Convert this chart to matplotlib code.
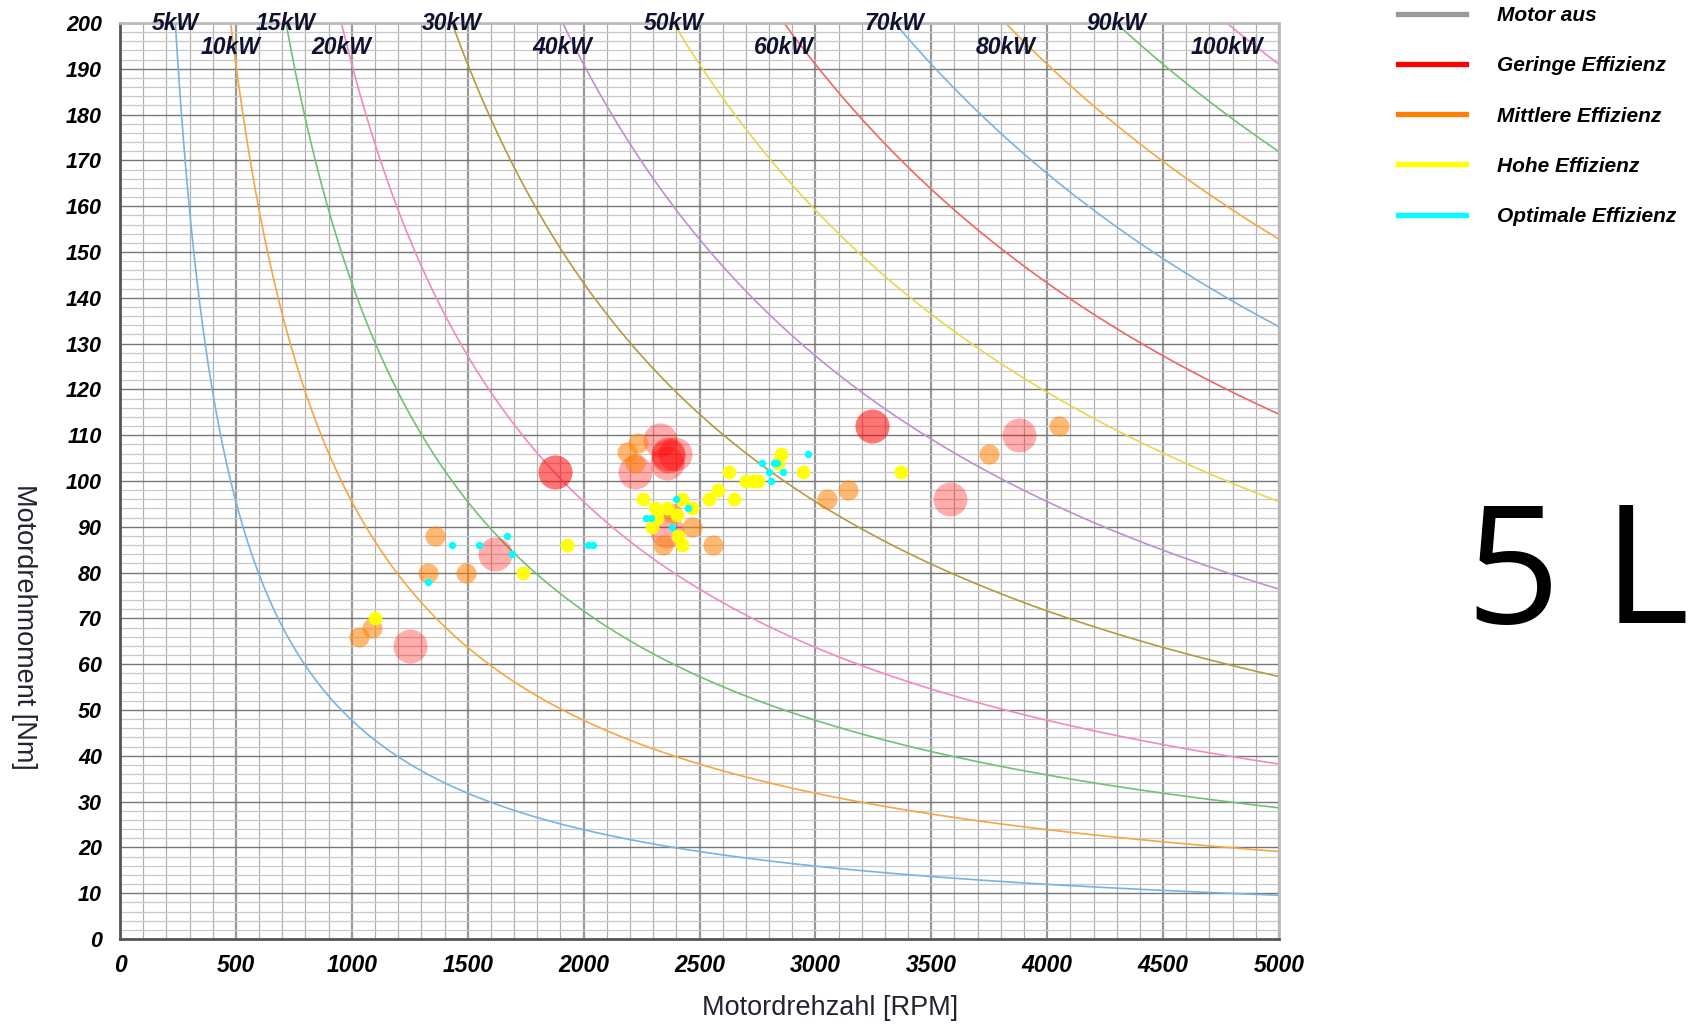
import numpy as np
import matplotlib.pyplot as plt
from matplotlib.lines import Line2D

# --- data ---
kw_levels = [5, 10, 15, 20, 30, 40, 50, 60, 70, 80, 90, 100]
kw_labels = ['5kW', '10kW', '15kW', '20kW', '30kW', '40kW', '50kW', '60kW',
             '70kW', '80kW', '90kW', '100kW']

# Geringe Effizienz (repeated points = overlapping bubbles)
red_rpm = [1251, 1618, 1877, 1877, 2222, 2330, 2394, 2358, 2362, 2366, 2360,
           3243, 3243, 3581, 3880]
red_nm = [64, 84, 102, 102, 102, 109, 106, 104, 105.5, 106, 89,
          112, 112, 96, 110]

# Mittlere Effizienz
orange_rpm = [1031, 1089, 1330, 1359, 1491, 2186, 2236, 2222, 2380, 2466,
              2344, 2557, 3049, 3139, 3749, 4052]
orange_nm = [66, 68, 80, 88, 80, 106.4, 108.2, 104, 93, 90,
             86, 86, 96, 98, 106, 112]

# Hohe Effizienz
yellow_rpm = [1100, 1740, 1927, 2258, 2308, 2358, 2423, 2466, 2315, 2402,
              2294, 2409, 2423, 2541, 2581, 2650, 2629, 2700, 2733, 2754,
              2852, 2840, 2948, 3369]
yellow_nm = [70, 80, 86, 96, 94, 94, 96, 94, 92, 92.6,
             90, 88, 86, 96, 98, 96, 102, 100, 100, 100,
             106, 104, 102, 102]

# Optimale Effizienz
cyan_rpm = [1330, 1431, 1550, 1671, 1690, 2020, 2039, 2269, 2290, 2380,
            2398, 2452, 2771, 2800, 2808, 2822, 2836, 2859, 2970]
cyan_nm = [78, 86, 86, 88, 84, 86, 86, 92, 92, 90,
           96, 94, 104, 102, 100, 104, 104, 102, 106]

legend_labels = ['Motor aus', 'Geringe Effizienz', 'Mittlere Effizienz',
                 'Hohe Effizienz', 'Optimale Effizienz']

# --- styling ---
curve_colors = ['#7ab3e0', '#f5a742', '#71c173', '#f08ac0', '#b59a3e',
                '#c08fd0', '#e5d84f', '#ee6666']
legend_colors = ['#999999', '#ff0000', '#ff8000', '#ffff00', '#00ffff']
bi = dict(family='Liberation Sans', weight='bold', style='italic')

fig = plt.figure(figsize=(17, 10.3), dpi=100)
ax = fig.add_axes([120/1700, 91/1030, 1159/1700, 916/1030])
ax.set_xlim(0, 5000)
ax.set_ylim(0, 200)

# grid
ax.set_xticks(np.arange(0, 5001, 500))
ax.set_yticks(np.arange(0, 201, 10))
ax.set_xticks(np.arange(0, 5001, 100), minor=True)
ax.set_yticks(np.arange(0, 201, 2), minor=True)
ax.grid(which='minor', axis='x', color='#b0b0b0', lw=0.9)
ax.grid(which='minor', axis='y', color='#c8c8c8', lw=0.9)
ax.grid(which='major', axis='x', color='#999999', lw=1.6)
ax.grid(which='major', axis='y', color='#777777', lw=1.0)
ax.set_axisbelow(True)
ax.tick_params(which='both', length=0)
ax.tick_params(axis='y', pad=13)
ax.tick_params(axis='x', pad=11)
for lab in ax.get_xticklabels():
    lab.set(size=16.5, **bi)
for lab in ax.get_yticklabels():
    lab.set(size=15.5, **bi)

for side in ['left', 'bottom']:
    ax.spines[side].set_color('#555555')
    ax.spines[side].set_linewidth(2)
for side in ['right', 'top']:
    ax.spines[side].set_color('#bbbbbb')
    ax.spines[side].set_linewidth(2)

# constant power curves
for i, kw in enumerate(kw_levels):
    n_top = kw * 1000 * 60 / (2 * np.pi * 200)
    n = np.linspace(n_top, 5000, 400)
    t = kw * 1000 * 60 / (2 * np.pi * n)
    ax.plot(n, t, color=curve_colors[i % len(curve_colors)], lw=1.2, zorder=2)
    ly = 199.9 if i % 2 == 0 else 194.7
    ax.text(n_top, ly, kw_labels[i], ha='center', va='center', size=16.5,
            color='#101030', clip_on=False, zorder=6, **bi)

# bubbles
ax.scatter(red_rpm, red_nm, s=600, color='#ff0000', alpha=0.32, lw=0, zorder=3)
ax.scatter(orange_rpm, orange_nm, s=210, color='#ff8000', alpha=0.55, lw=0, zorder=4)
ax.scatter(yellow_rpm, yellow_nm, s=100, color='#ffff00', alpha=0.95, lw=0, zorder=5)
ax.scatter(cyan_rpm, cyan_nm, s=28, color='#00ffff', lw=0, zorder=6)

# axis labels
fig.text(830/1700, 1 - 1008/1030, 'Motordrehzahl [RPM]', ha='center', va='center',
         fontsize=19.5, color='#222233', family='Liberation Sans')
fig.text(24/1700, 1 - 627/1030, 'Motordrehmoment [Nm]', ha='center', va='center',
         rotation=270, fontsize=19.5, color='#222233', family='Liberation Sans')

# legend
handles = [Line2D([], [], color=c, lw=3.8) for c in legend_colors]
fig.legend(handles, legend_labels, loc='upper left',
           bbox_to_anchor=(1398/1700, 1 - 6/1030), frameon=False,
           borderpad=0, borderaxespad=0, handlelength=3.25, handletextpad=1.5,
           labelspacing=1.5, prop=dict(size=15, **bi))

# volume label
fig.text(1690/1700, 1 - 623/1030, '5 L', ha='right', va='baseline',
         fontsize=119, family='Open Sans', color='black')

fig.savefig('out.png', dpi=100)
